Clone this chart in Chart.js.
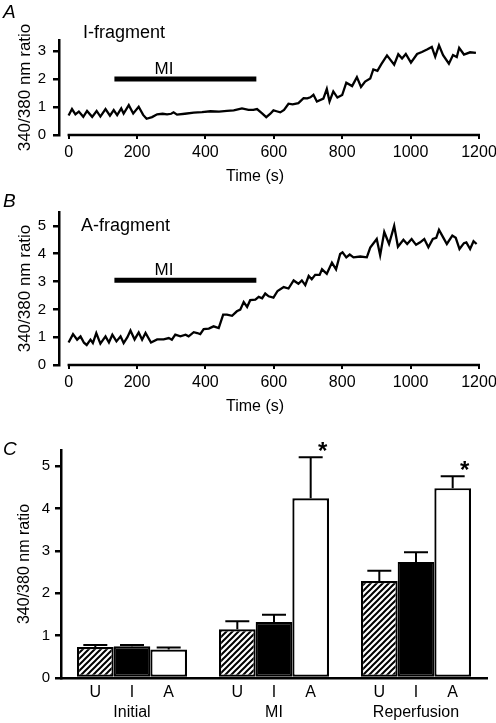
<!DOCTYPE html>
<html><head><meta charset="utf-8">
<script src="https://cdn.jsdelivr.net/npm/chart.js@4.4.1/dist/chart.umd.min.js"></script>
<style>
html,body{margin:0;padding:0;background:#fff;}
#wrap{position:relative;width:496px;height:723px;overflow:hidden;background:#fff;}
canvas{position:absolute;left:0;}
</style></head><body>
<div id="wrap">
<canvas id="cA" width="496" height="190" style="top:0px"></canvas>
<canvas id="cB" width="496" height="230" style="top:190px"></canvas>
<canvas id="cC" width="496" height="303" style="top:420px"></canvas>
</div>
<script>
const FONT = '"Liberation Sans", Arial, Helvetica, sans-serif';

// ---------- data ----------
const timeTicks = [0, 200, 400, 600, 800, 1000, 1200];
const ratioTicksA = [0, 1, 2, 3];
const ratioTicksB = [0, 1, 2, 3, 4, 5];
const ratioTicksC = [0, 1, 2, 3, 4, 5];

// Panel A: I-fragment trace (time s, 340/380 ratio)
const timeA = [0,10,20,30,43,54,69,82,93,108,121,132,142,154,161,176,189,205,218,228,244,259,275,288,300,307,317,340,366,390,415,440,463,483,507,526,540,551,565,578,590,599,608,619,630,643,655,672,687,698,707,716,726,745,755,763,774,786,800,812,829,843,855,867,882,891,903,914,931,952,964,975,986,1001,1019,1033,1048,1062,1072,1083,1095,1112,1124,1135,1142,1156,1174,1191];
const ratioA = [0.70,0.93,0.74,0.84,0.65,0.86,0.65,0.86,0.66,0.93,0.69,0.89,0.71,0.95,0.77,1.07,0.77,1.01,0.72,0.58,0.64,0.74,0.76,0.74,0.76,0.81,0.73,0.76,0.80,0.82,0.85,0.84,0.86,0.88,0.95,0.90,0.90,0.93,0.78,0.64,0.76,0.88,0.85,0.81,0.90,1.12,1.10,1.14,1.32,1.31,1.35,1.44,1.20,1.30,1.65,1.20,1.56,1.34,1.43,1.87,1.75,2.07,1.72,1.91,2.02,2.35,2.30,2.53,2.85,2.52,2.89,2.74,2.90,2.59,2.90,2.97,3.06,3.15,2.80,3.21,2.86,2.55,2.86,2.79,3.12,2.88,2.96,2.94];

// Panel B: A-fragment trace
const timeB = [0,13,25,35,45,53,64,71,81,93,108,118,128,140,152,161,172,181,193,205,215,225,241,259,278,293,302,312,327,342,351,366,376,385,395,410,424,439,452,463,478,492,502,512,522,531,546,556,566,575,585,599,611,629,643,658,672,682,692,702,711,721,734,741,755,770,782,794,801,812,822,833,853,872,882,901,911,923,937,952,963,979,990,1003,1016,1028,1040,1052,1065,1075,1083,1096,1106,1122,1132,1143,1156,1163,1174,1184,1193];
const ratioB = [0.81,1.11,0.91,1.03,0.80,0.72,0.91,0.79,1.15,0.77,1.03,0.81,1.09,0.85,1.03,0.79,1.00,1.24,0.92,1.17,0.91,1.15,0.81,0.92,0.92,0.97,0.91,1.09,1.03,1.09,1.03,1.18,1.15,1.11,1.29,1.31,1.39,1.33,1.81,1.81,1.77,1.93,1.99,2.26,2.09,2.33,2.35,2.45,2.40,2.57,2.47,2.42,2.66,2.80,2.75,3.04,2.92,3.04,2.87,3.20,3.08,3.24,3.24,3.44,3.28,3.68,3.44,3.99,4.05,3.87,3.97,3.87,3.90,3.87,4.22,4.53,3.95,4.78,4.35,5.00,4.25,4.50,4.35,4.53,4.32,4.41,4.53,4.23,4.53,4.57,4.86,4.57,4.35,4.65,4.57,4.17,4.38,4.41,4.17,4.45,4.35];

const miPeriod = [134, 549];     // s, duration of metabolic inhibition bar
const miLevelA = 2.0;
const miLevelB = 3.05;

// Panel C: bar chart
const categories = ['Initial', 'MI', 'Reperfusion'];
const fragments = ['U', 'I', 'A'];
const meanU = [0.73, 1.15, 2.29];
const semU  = [0.05, 0.19, 0.24];
const meanI = [0.75, 1.32, 2.74];
const semI  = [0.03, 0.17, 0.23];
const meanA = [0.67, 4.24, 4.48];
const semA  = [0.05, 0.97, 0.28];
const significanceA = ['', '*', '*'];

// ---------- helpers ----------
Chart.defaults.font.family = FONT;
Chart.defaults.color = '#000';

function hatchPattern() {
  const s = 6;
  const c = document.createElement('canvas');
  c.width = s; c.height = s;
  const g = c.getContext('2d');
  g.fillStyle = '#fff'; g.fillRect(0, 0, s, s);
  g.strokeStyle = '#000'; g.lineWidth = 2;
  g.beginPath();
  g.moveTo(-1, s + 1); g.lineTo(s + 1, -1);
  g.moveTo(-1, 1); g.lineTo(1, -1);
  g.moveTo(s - 1, s + 1); g.lineTo(s + 1, s - 1);
  g.stroke();
  return g.createPattern(c, 'repeat');
}

const xAxisLine = {
  id: 'xAxisLine',
  afterDraw(chart) {
    const ctx = chart.ctx, x = chart.scales.x, y = chart.chartArea.bottom;
    ctx.save();
    ctx.strokeStyle = '#000'; ctx.lineWidth = 2.5;
    ctx.beginPath();
    ctx.moveTo(x.getPixelForValue(timeTicks[0]) - 1, y);
    ctx.lineTo(x.getPixelForValue(timeTicks[timeTicks.length - 1]) + 1, y);
    ctx.stroke();
    ctx.restore();
  }
};

const panelText = {
  id: 'panelText',
  afterDraw(chart, args, o) {
    const ctx = chart.ctx, ca = chart.chartArea;
    ctx.save();
    ctx.fillStyle = '#000';
    ctx.textBaseline = 'alphabetic';
    ctx.textAlign = 'left';
    ctx.font = 'italic 19px ' + FONT;
    ctx.fillText(o.letter, o.letterX, o.letterY);
    if (o.name) {
      ctx.font = '18px ' + FONT;
      ctx.fillText(o.name, o.nameX, o.nameY);
    }
    if (o.miLevel !== undefined) {
      ctx.font = '17px ' + FONT;
      ctx.textAlign = 'center';
      ctx.fillText('MI', chart.scales.x.getPixelForValue(o.miLabelTime), chart.scales.y.getPixelForValue(o.miLevel) - 5);
    }
    if (o.xTitle) {
      ctx.font = '16px ' + FONT;
      ctx.textAlign = 'center';
      ctx.textBaseline = 'middle';
      ctx.fillText(o.xTitle, o.xTitleX, ca.bottom + 42);
    }
    ctx.restore();
  }
};

function traceChart(id, times, ratios, yTicks, yMax, padTop, miLevel, texts) {
  return new Chart(document.getElementById(id), {
    type: 'line',
    data: {
      datasets: [
        { data: times.map((t, i) => ({ x: t, y: ratios[i] })), borderColor: '#000', borderWidth: 2.3,
          pointRadius: 0, tension: 0, fill: false, borderJoinStyle: 'miter' },
        { data: miPeriod.map(t => ({ x: t, y: miLevel })), borderColor: '#000', borderWidth: 5,
          pointRadius: 0, borderCapStyle: 'butt', fill: false }
      ]
    },
    options: {
      responsive: false, animation: false, devicePixelRatio: 1,
      layout: { padding: { top: padTop, right: 17, left: 0, bottom: 0 } },
      plugins: { legend: { display: false }, tooltip: { enabled: false }, panelText: Object.assign({ miLevel }, texts) },
      scales: {
        x: {
          type: 'linear', min: -28, max: 1200,
          afterBuildTicks: s => { s.ticks = timeTicks.map(v => ({ value: v })); },
          afterFit: s => { s.height = 55; s.paddingLeft = 0; s.paddingRight = 0; },
          border: { display: false },
          grid: { drawOnChartArea: false, drawTicks: true, tickLength: 4, color: '#000', lineWidth: 2 },
          ticks: { padding: 4, font: { size: 16 }, color: '#000', maxRotation: 0, autoSkip: false,
                   callback: v => String(v) }
        },
        y: {
          min: 0, max: yMax,
          afterBuildTicks: s => { s.ticks = yTicks.map(v => ({ value: v })); },
          afterFit: s => { s.width = 59; s.paddingTop = 0; s.paddingBottom = 0; },
          border: { display: true, color: '#000', width: 2.5 },
          grid: { drawOnChartArea: false, drawTicks: true, tickLength: 6, color: '#000', lineWidth: 2.5 },
          ticks: { padding: 7, font: { size: 15 }, color: '#000', callback: v => String(v) },
          title: { display: true, text: '340/380 nm ratio', font: { size: 17 }, color: '#000', padding: { top: 15, bottom: 0 } }
        }
      }
    },
    plugins: [xAxisLine, panelText]
  });
}

traceChart('cA', timeA, ratioA, ratioTicksA, 3.4, 40, miLevelA,
  { letter: 'A', letterX: 3, letterY: 18, name: 'I-fragment', nameX: 83, nameY: 38, miLabelTime: 279, xTitle: 'Time (s)', xTitleX: 255 });
traceChart('cB', timeB, ratioB, ratioTicksB, 5.5, 22, miLevelB,
  { letter: 'B', letterX: 3, letterY: 17, name: 'A-fragment', nameX: 81, nameY: 41, miLabelTime: 279, xTitle: 'Time (s)', xTitleX: 255 });

// ---------- panel C ----------
const barExtras = {
  id: 'barExtras',
  afterDatasetsDraw(chart, args, o) {
    const ctx = chart.ctx, y = chart.scales.y, ca = chart.chartArea;
    ctx.save();
    ctx.strokeStyle = '#000'; ctx.lineWidth = 2;
    o.errors.forEach((errs, di) => {
      const meta = chart.getDatasetMeta(di);
      meta.data.forEach((bar, i) => {
        const v = chart.data.datasets[di].data[i];
        const top = y.getPixelForValue(v + errs[i]);
        ctx.beginPath();
        ctx.moveTo(bar.x, bar.y); ctx.lineTo(bar.x, top);
        ctx.moveTo(bar.x - 12, top); ctx.lineTo(bar.x + 12, top);
        ctx.stroke();
        if (di === 2 && o.stars[i]) {
          ctx.fillStyle = '#000';
          ctx.font = 'bold 24px ' + FONT;
          ctx.textAlign = 'center'; ctx.textBaseline = 'alphabetic';
          ctx.fillText(o.stars[i], bar.x + 12, top + 2);
        }
      });
    });
    // fragment labels under each bar
    ctx.fillStyle = '#000';
    ctx.font = '16px ' + FONT;
    ctx.textAlign = 'center'; ctx.textBaseline = 'middle';
    chart.data.datasets.forEach((ds, di) => {
      chart.getDatasetMeta(di).data.forEach(bar => {
        ctx.fillText(ds.label, bar.x, ca.bottom + 15);
      });
    });
    // panel letter
    ctx.textAlign = 'left'; ctx.textBaseline = 'alphabetic';
    ctx.font = 'italic 19px ' + FONT;
    ctx.fillText('C', 3, 35);
    ctx.restore();
  }
};

const ctxC = document.getElementById('cC');
new Chart(ctxC, {
  type: 'bar',
  data: {
    labels: categories,
    datasets: [
      { label: fragments[0], data: meanU, backgroundColor: hatchPattern(), borderColor: '#000', borderWidth: 2.2, borderSkipped: false },
      { label: fragments[1], data: meanI, backgroundColor: '#000', borderColor: '#000', borderWidth: 2.2, borderSkipped: false },
      { label: fragments[2], data: meanA, backgroundColor: '#fff', borderColor: '#000', borderWidth: 2.2, borderSkipped: false }
    ]
  },
  options: {
    responsive: false, animation: false, devicePixelRatio: 1,
    datasets: { bar: { barPercentage: 1, categoryPercentage: 0.775 } },
    layout: { padding: { top: 30, right: 9, left: 0, bottom: 0 } },
    plugins: { legend: { display: false }, tooltip: { enabled: false },
      barExtras: { errors: [semU, semI, semA], stars: significanceA } },
    scales: {
      x: {
        grid: { display: false, drawTicks: false },
        border: { display: true, color: '#000', width: 2.5 },
        ticks: { padding: 25, font: { size: 16 }, color: '#000', maxRotation: 0 },
        afterFit: s => { s.height = 45; s.paddingLeft = 0; s.paddingRight = 0; }
      },
      y: {
        min: 0, max: 5.38,
        afterBuildTicks: s => { s.ticks = ratioTicksC.map(v => ({ value: v })); },
        afterFit: s => { s.width = 61; s.paddingTop = 0; s.paddingBottom = 0; },
        border: { display: true, color: '#000', width: 2.5 },
        grid: { drawOnChartArea: false, drawTicks: true, tickLength: 6, color: '#000', lineWidth: 2.5 },
        ticks: { padding: 5, font: { size: 15 }, color: '#000', callback: v => String(v) },
        title: { display: true, text: '340/380 nm ratio', font: { size: 16 }, color: '#000', padding: { top: 15, bottom: 0 } }
      }
    }
  },
  plugins: [barExtras]
});
</script>
</body></html>
